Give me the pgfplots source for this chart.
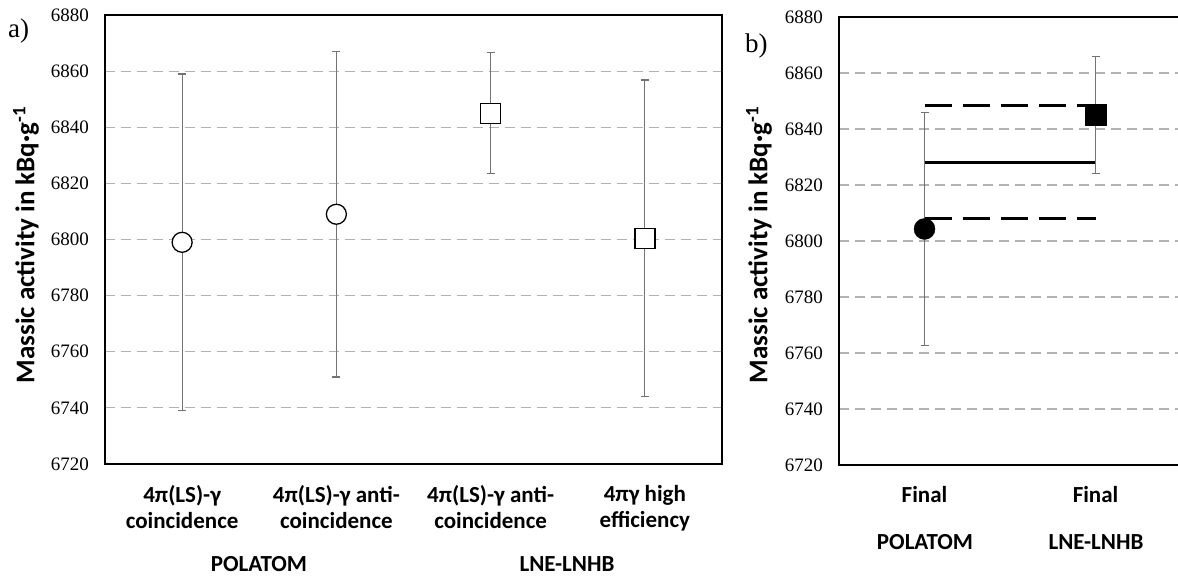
\documentclass[border=0pt]{standalone}
\usepackage{fontspec}
\setmainfont{Liberation Serif}
\newfontfamily\calfont{Carlito}
\usepackage{pgfplots}
\pgfplotsset{compat=1.18}

\pgfplotsset{
  panel/.style={
    scale only axis, anchor=south west,
    ymin=6720, ymax=6880, ytick={6720,6740,...,6880},
    xmin=-0.5,
    major tick length=0pt,
    ymajorgrids,
    major grid style={gray!60, line width=1.2pt, dash pattern=on 10pt off 6pt},
    axis line style={line width=1.3pt},
    yticklabel style={font=\fontsize{19}{21}\selectfont, inner sep=0pt, anchor=east},
    yticklabel shift=16pt,
    xticklabel style={font=\calfont\bfseries\fontsize{23}{26}\selectfont, inner sep=0pt, anchor=north, align=center},
    xticklabel shift=21pt,
    /pgf/number format/assume math mode=true,
    /pgf/number format/1000 sep={},
    error bars/y dir=both, error bars/y explicit,
    error bars/error bar style={gray!90!black, line width=1.2pt},
    error bars/error mark options={rotate=90, mark size=4pt, line width=1.2pt, gray!90!black},
  },
}

\begin{document}
\begin{tikzpicture}[x=1pt,y=1pt]
\useasboundingbox (0,0) rectangle (1178,578);

% panel a
\begin{axis}[panel, at={(105pt,114pt)}, width=617pt, height=449pt,
  xmax=3.5, xtick={0,1,2,3},
  xticklabels={{4π(LS)-γ\\coincidence},{4π(LS)-γ anti-\\coincidence},{4π(LS)-γ anti-\\coincidence},{4πγ high\\efficiency}}]
\addplot[only marks, mark=*, mark size=10pt, mark options={fill=white, draw=black, line width=1.3pt}]
  coordinates {(0,6799) +- (0,60) (1,6809) +- (0,58)};
\addplot[only marks, mark=square*, mark size=10pt, mark options={fill=white, draw=black, line width=1.3pt}]
  coordinates {(2,6845) +- (0,21.5) (3,6800.4) +- (0,56.4)};
\end{axis}

% panel b
\begin{axis}[panel, at={(839pt,113pt)}, width=341pt, height=448pt,
  xmax=1.494, xtick={0,1}, xticklabels={Final,Final}]
\addplot[line width=3pt, dash pattern=on 27pt off 11pt] coordinates {(0,6848.5) (1,6848.5)};
\addplot[line width=3pt] coordinates {(0,6828.2) (1,6828.2)};
\addplot[line width=3pt, dash pattern=on 27pt off 11pt] coordinates {(0,6807.9) (1,6807.9)};
\addplot[only marks, mark=*, mark size=10.5pt, mark options={fill=black, draw=black}]
  coordinates {(0,6804.3) +- (0,41.7)};
\addplot[only marks, mark=square*, mark size=10.5pt, mark options={fill=black, draw=black}]
  coordinates {(1,6845) +- (0,21)};
\end{axis}

\begin{scope}[every node/.style={font=\calfont\bfseries\fontsize{23}{26}\selectfont, inner sep=0pt}]
\node[rotate=90, anchor=center, font=\calfont\bfseries\fontsize{27}{30}\selectfont] at (26,333) {Massic activity in kBq·g\textsuperscript{-1}};
\node[rotate=90, anchor=center, font=\calfont\bfseries\fontsize{27}{30}\selectfont] at (759,333) {Massic activity in kBq·g\textsuperscript{-1}};
\node[anchor=base] at (259,6) {POLATOM};
\node[anchor=base] at (567,6) {LNE-LNHB};
\node[anchor=base] at (925,28) {POLATOM};
\node[anchor=base] at (1096,28) {LNE-LNHB};
\end{scope}
\node[anchor=base west, inner sep=0pt, font=\fontsize{27}{29}\selectfont] at (8,540) {a)};
\node[anchor=base west, inner sep=0pt, font=\fontsize{27}{29}\selectfont] at (745,525) {b)};
\end{tikzpicture}
\end{document}
